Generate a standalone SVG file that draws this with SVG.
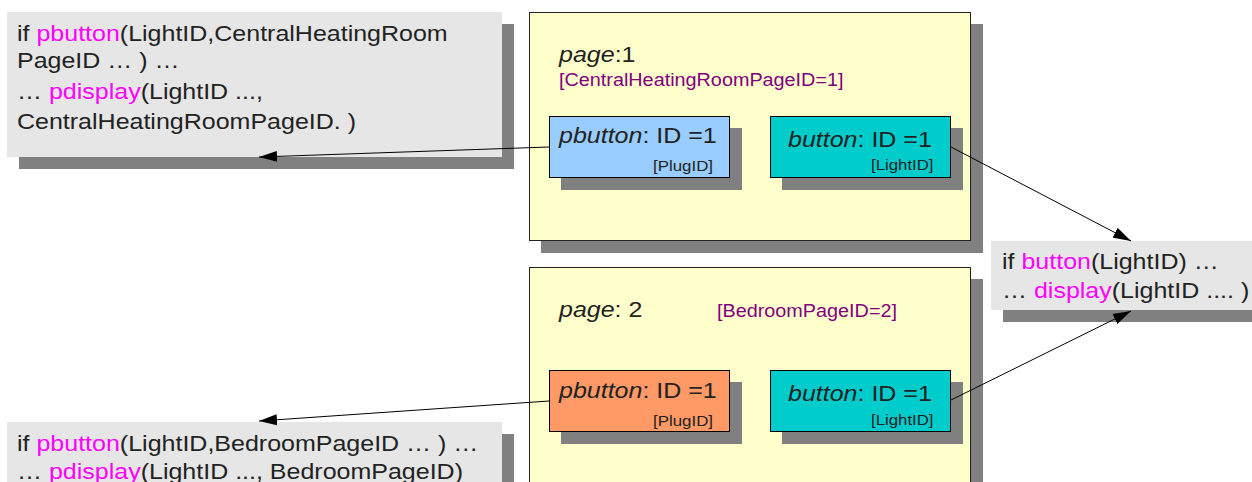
<svg xmlns="http://www.w3.org/2000/svg" width="1252" height="482" viewBox="0 0 1252 482">
<defs>
<style>
text{font-family:"Liberation Sans",Arial,sans-serif;fill:#222}
.big{font-size:22.5px}
.mid{font-size:17.5px}
.sm{font-size:15.5px}
.pur{fill:#800080}
.mag{fill:#ff00ff}
.it{font-style:italic}
.shadow{fill:#808080}
.note{fill:#e6e6e6}
.page{fill:#ffffcc;stroke:#222;stroke-width:1}
.pb1{fill:#99ccff;stroke:#000;stroke-width:1}
.pb2{fill:#ff9966;stroke:#000;stroke-width:1}
.btn{fill:#00cccc;stroke:#000;stroke-width:1}
.conn{stroke:#000;stroke-width:1;fill:none;marker-end:url(#arr)}
</style>
<marker id="arr" markerUnits="userSpaceOnUse" markerWidth="18" markerHeight="12" refX="18" refY="6" orient="auto">
<path d="M0,0.5 L18,6 L0,11.5 z" fill="#000"/>
</marker>
</defs>
<rect width="1252" height="482" fill="#fff"/>

<g id="note-central">
<rect class="shadow" x="19" y="24" width="495" height="145"/>
<rect class="note" x="7" y="12" width="495" height="145"/>
<text class="big" x="17" y="41" textLength="430.7" lengthAdjust="spacingAndGlyphs">if <tspan class="mag">pbutton</tspan>(LightID,CentralHeatingRoom</text>
<text class="big" x="17" y="68" textLength="162.5" lengthAdjust="spacingAndGlyphs">PageID … ) …</text>
<text class="big" x="17" y="99" textLength="245.9" lengthAdjust="spacingAndGlyphs">… <tspan class="mag">pdisplay</tspan>(LightID ...,</text>
<text class="big" x="17" y="128.5" textLength="339" lengthAdjust="spacingAndGlyphs">CentralHeatingRoomPageID. )</text>
</g>

<g id="note-bedroom">
<rect class="shadow" x="19" y="434" width="495" height="100"/>
<rect class="note" x="7" y="422" width="495" height="100"/>
<text class="big" x="17" y="451" textLength="461.3" lengthAdjust="spacingAndGlyphs">if <tspan class="mag">pbutton</tspan>(LightID,BedroomPageID … ) …</text>
<text class="big" x="17" y="479" textLength="446" lengthAdjust="spacingAndGlyphs">… <tspan class="mag">pdisplay</tspan>(LightID ..., BedroomPageID)</text>
</g>

<g id="note-button">
<rect class="shadow" x="1003" y="253" width="270" height="69"/>
<rect class="note" x="991" y="241" width="270" height="69"/>
<text class="big" x="1002" y="269" textLength="216.7" lengthAdjust="spacingAndGlyphs">if <tspan class="mag">button</tspan>(LightID) …</text>
<text class="big" x="1002" y="298" textLength="247.3" lengthAdjust="spacingAndGlyphs">… <tspan class="mag">display</tspan>(LightID .... )</text>
</g>

<g id="page1">
<rect class="shadow" x="541" y="24" width="442" height="229"/>
<rect class="page" x="529.5" y="12.5" width="441" height="228"/>
<text class="big" x="559" y="62" textLength="76.5" lengthAdjust="spacingAndGlyphs"><tspan class="it">page</tspan>:1</text>
<text class="mid pur" x="559" y="86" textLength="284.5" lengthAdjust="spacingAndGlyphs">[CentralHeatingRoomPageID=1]</text>
</g>

<g id="page1-pbutton">
<rect class="shadow" x="561" y="128" width="181" height="62"/>
<rect class="pb1" x="549.5" y="116.5" width="180" height="61"/>
<text class="big" x="559" y="143" textLength="157.8" lengthAdjust="spacingAndGlyphs"><tspan class="it">pbutton</tspan>: ID =1</text>
<text class="sm" x="653" y="171" textLength="60" lengthAdjust="spacingAndGlyphs">[PlugID]</text>
</g>

<g id="page1-button">
<rect class="shadow" x="782" y="128" width="181" height="62"/>
<rect class="btn" x="770.5" y="116.5" width="180" height="61"/>
<text class="big" x="788" y="146.5" textLength="143.9" lengthAdjust="spacingAndGlyphs"><tspan class="it">button</tspan>: ID =1</text>
<text class="sm" x="871" y="170" textLength="62.5" lengthAdjust="spacingAndGlyphs">[LightID]</text>
</g>

<g id="page2">
<rect class="shadow" x="541" y="279" width="442" height="250"/>
<rect class="page" x="529.5" y="267.5" width="441" height="250"/>
<text class="big" x="559" y="317" textLength="83.4" lengthAdjust="spacingAndGlyphs"><tspan class="it">page</tspan>: 2</text>
<text class="mid pur" x="717" y="317" textLength="180" lengthAdjust="spacingAndGlyphs">[BedroomPageID=2]</text>
</g>

<g id="page2-pbutton">
<rect class="shadow" x="561" y="382" width="181" height="62"/>
<rect class="pb2" x="549.5" y="370.5" width="180" height="61"/>
<text class="big" x="559" y="397.5" textLength="157.8" lengthAdjust="spacingAndGlyphs"><tspan class="it">pbutton</tspan>: ID =1</text>
<text class="sm" x="653" y="426" textLength="60" lengthAdjust="spacingAndGlyphs">[PlugID]</text>
</g>

<g id="page2-button">
<rect class="shadow" x="782" y="382" width="181" height="62"/>
<rect class="btn" x="770.5" y="370.5" width="180" height="61"/>
<text class="big" x="788" y="401" textLength="143.9" lengthAdjust="spacingAndGlyphs"><tspan class="it">button</tspan>: ID =1</text>
<text class="sm" x="871" y="424.5" textLength="62.5" lengthAdjust="spacingAndGlyphs">[LightID]</text>
</g>

<g id="connectors">
<line class="conn" x1="549" y1="147" x2="259" y2="157"/>
<line class="conn" x1="951" y1="147" x2="1131" y2="241"/>
<line class="conn" x1="951" y1="400" x2="1131" y2="311"/>
<line class="conn" x1="549" y1="401" x2="259" y2="421"/>
</g>
</svg>
